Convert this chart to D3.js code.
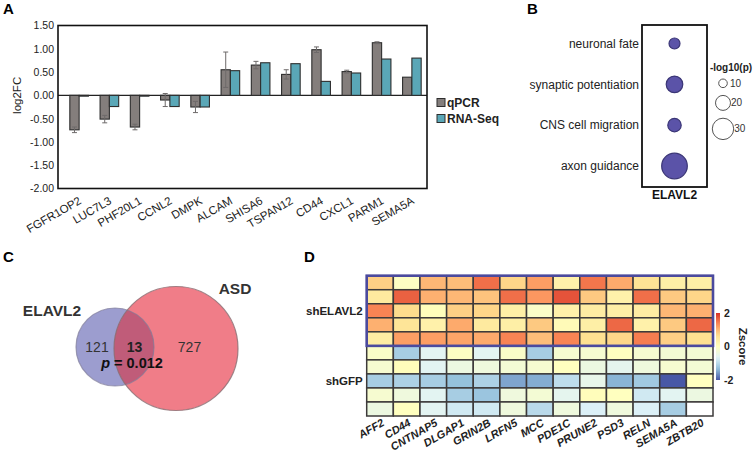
<!DOCTYPE html>
<html><head><meta charset="utf-8">
<script src="https://cdn.jsdelivr.net/npm/d3@7"></script>
<style>body{margin:0;background:#fff}svg{display:block;font-family:Arial,"Liberation Sans",Helvetica,sans-serif}</style>
</head><body><svg id="c" width="755" height="455"></svg>
<script>
// ---------- Panel A data ----------
const genesA = ["FGFR1OP2","LUC7L3","PHF20L1","CCNL2","DMPK","ALCAM","SHISA6","TSPAN12","CD44","CXCL1","PARM1","SEMA5A"];
const qpcrValues = [-0.74,-0.51,-0.68,-0.10,-0.25,0.55,0.65,0.45,0.98,0.51,1.13,0.39];
const qpcrErrors = [0.06,0.08,0.06,0.14,0.12,0.38,0.08,0.10,0.06,0.03,0.02,0.0];
const rnaSeqValues = [-0.01,-0.24,-0.01,-0.24,-0.25,0.53,0.70,0.68,0.30,0.48,0.78,0.80];
const yTicksA = [-2,-1.5,-1,-0.5,0,0.5,1,1.5];
const seriesA = ["qPCR","RNA-Seq"];

// ---------- Panel B data ----------
const goTerms = ["neuronal fate","synaptic potentiation","CNS cell migration","axon guidance"];
const goLogP = [13.7,22.5,17.5,36.6];
const sizeLegendValues = [10,20,30];
const goColumn = "ELAVL2";

// ---------- Panel C data ----------
const vennLabels = ["ELAVL2","ASD"];
const vennCounts = [121,13,727];   // only ELAVL2, overlap, only ASD
const vennP = "0.012";

// ---------- Panel D data ----------
const heatGenes = ["AFF2","CD44","CNTNAP5","DLGAP1","GRIN2B","LRFN5","MCC","PDE1C","PRUNE2","PSD3","RELN","SEMA5A","ZBTB20"];
const heatGroups = ["shELAVL2","shGFP"];
const heatRowGroup = [0,0,0,0,0,1,1,1,1,1];
const zRow1  = [0.80,-0.05,1.00,0.95,1.55,0.75,1.20,0.30,1.50,1.10,0.60,0.35,0.35];
const zRow2  = [0.45,1.65,1.05,1.00,0.90,1.55,1.25,1.75,0.85,0.30,1.55,0.85,0.75];
const zRow3  = [1.40,0.70,0.05,0.80,0.75,0.35,-0.10,0.30,0.40,0.35,0.40,1.00,1.05];
const zRow4  = [1.05,0.55,0.30,1.10,0.45,0.35,0.85,0.10,0.35,1.60,0.30,0.85,1.60];
const zRow5  = [0.40,1.20,1.20,1.15,1.10,1.40,0.95,1.40,0.65,0.75,1.45,0.80,0.65];
const zRow6  = [-0.10,-1.15,-0.60,-0.05,-0.60,-0.10,-1.15,-0.20,-0.20,0.00,-0.20,-0.25,-0.25];
const zRow7  = [-0.20,0.05,-0.60,-0.40,-0.35,-0.25,-0.20,0.00,-0.40,-0.55,-0.35,-0.20,-0.25];
const zRow8  = [-1.15,-1.10,-1.15,-1.30,-1.10,-1.50,-1.45,-0.95,-0.50,-1.40,-1.20,-2.00,0.00];
const zRow9  = [-0.20,-0.35,-0.60,-1.15,-1.25,-0.35,-0.25,-0.55,0.05,0.00,-0.80,-0.60,-0.40];
const zRow10 = [-0.40,0.00,-0.60,-0.80,-0.80,-0.35,-1.00,-0.35,-0.70,-0.35,-0.70,-1.15,null];
const zscores = [zRow1,zRow2,zRow3,zRow4,zRow5,zRow6,zRow7,zRow8,zRow9,zRow10];
const zTicks = [2,0,-2];

// ================= drawing =================
const svg = d3.select("#c");
const FONT = 'Arial, "Liberation Sans", Helvetica, sans-serif';
const defs = svg.append("defs");

function panelLabel(t, x, y){
  svg.append("text").attr("x",x).attr("y",y).attr("font-size",15).attr("font-weight","bold").text(t);
}
panelLabel("A",3,14); panelLabel("B",527,14); panelLabel("C",3,262); panelLabel("D",304,262);

// ---------- Panel A ----------
(function(){
  const left=58, right=427, top=25.5, bottom=188.5;
  const g = svg.append("g");
  const x = d3.scaleBand().domain(genesA).range([64,427]);
  const y = d3.scaleLinear().domain([-2,1.5]).range([bottom,top]);
  const bw = 9.3;
  const colors = {"qPCR":"#847e7c","RNA-Seq":"#5aa7b7"};

  g.append("line").attr("x1",left).attr("x2",right).attr("y1",y(0)).attr("y2",y(0))
    .attr("stroke","#222").attr("stroke-width",1.2);

  const cx = d => x(d)+x.bandwidth()/2;
  g.selectAll("rect.q").data(genesA).join("rect").attr("class","q")
    .attr("x",d=>cx(d)-bw).attr("width",bw)
    .attr("y",(d,i)=>Math.min(y(qpcrValues[i]),y(0)))
    .attr("height",(d,i)=>Math.max(Math.abs(y(qpcrValues[i])-y(0)),0.8))
    .attr("fill",colors.qPCR).attr("stroke","#2e2e2e").attr("stroke-width",1.1);
  g.selectAll("rect.r").data(genesA).join("rect").attr("class","r")
    .attr("x",d=>cx(d)).attr("width",bw)
    .attr("y",(d,i)=>Math.min(y(rnaSeqValues[i]),y(0)))
    .attr("height",(d,i)=>Math.max(Math.abs(y(rnaSeqValues[i])-y(0)),0.8))
    .attr("fill",colors["RNA-Seq"]).attr("stroke","#2e2e2e").attr("stroke-width",1.1);

  const eb = g.append("g").attr("stroke","#6e6a6a").attr("stroke-width",1);
  genesA.forEach((d,i)=>{
    if(!qpcrErrors[i]) return;
    const ex = cx(d)-bw/2, v=qpcrValues[i], e=qpcrErrors[i];
    eb.append("line").attr("x1",ex).attr("x2",ex).attr("y1",y(v+e)).attr("y2",y(v-e));
    eb.append("line").attr("x1",ex-2.5).attr("x2",ex+2.5).attr("y1",y(v+e)).attr("y2",y(v+e));
    eb.append("line").attr("x1",ex-2.5).attr("x2",ex+2.5).attr("y1",y(v-e)).attr("y2",y(v-e));
  });

  g.append("rect").attr("x",left).attr("y",top).attr("width",right-left).attr("height",bottom-top)
    .attr("fill","none").attr("stroke","#111").attr("stroke-width",1.6);

  const ax = g.append("g").attr("transform",`translate(${left},0)`)
    .call(d3.axisLeft(y).tickValues(yTicksA).tickSize(0).tickPadding(4).tickFormat(d=>d.toFixed(2)));
  ax.select(".domain").remove();
  ax.selectAll("text").attr("font-size",10.5).attr("font-family",FONT).attr("fill","#222");

  g.append("text").attr("transform",`translate(21,${y(0)}) rotate(-90)`).attr("text-anchor","middle")
    .attr("font-size",11.5).attr("fill","#222").text("log2FC");

  g.selectAll("text.xl").data(genesA).join("text").attr("class","xl")
    .attr("transform",d=>`translate(${cx(d)+3},${203}) rotate(-30)`)
    .attr("text-anchor","end").attr("font-size",11.5).attr("fill","#222").text(d=>d);

  const lg = g.append("g");
  seriesA.forEach((s,i)=>{
    const ly = 103 + i*16;
    lg.append("rect").attr("x",437).attr("y",ly-4.5).attr("width",8).attr("height",8)
      .attr("fill",colors[s]).attr("stroke","#2e2e2e").attr("stroke-width",1);
    lg.append("text").attr("x",447).attr("y",ly).attr("dy","0.35em").attr("font-size",12)
      .attr("font-weight","bold").attr("fill","#222").text(s);
  });
})();

// ---------- Panel B ----------
(function(){
  const g = svg.append("g");
  const boxL=642, boxR=707, boxT=25, boxB=187;
  const yB = d3.scalePoint().domain(goTerms).range([43.5,166]);
  const r = d3.scaleLinear().domain([0,40]).range([1.1,13.9]);
  const cxB = (boxL+boxR)/2;
  g.append("rect").attr("x",boxL).attr("y",boxT).attr("width",boxR-boxL).attr("height",boxB-boxT)
    .attr("fill","none").attr("stroke","#111").attr("stroke-width",1.8);
  g.selectAll("circle.go").data(goTerms).join("circle").attr("class","go")
    .attr("cx",cxB).attr("cy",d=>yB(d)).attr("r",(d,i)=>r(goLogP[i]))
    .attr("fill","#5b53a8").attr("stroke","#3b3676").attr("stroke-width",1.2);
  g.selectAll("text.go").data(goTerms).join("text").attr("class","go")
    .attr("x",boxL-3).attr("y",d=>yB(d)).attr("dy","0.35em").attr("text-anchor","end")
    .attr("font-size",12).attr("fill","#222").text(d=>d);
  g.append("text").attr("x",cxB).attr("y",199).attr("text-anchor","middle")
    .attr("font-size",12).attr("font-weight","bold").attr("fill","#111").text(goColumn);

  g.append("text").attr("x",731).attr("y",71).attr("text-anchor","middle")
    .attr("font-size",10).attr("font-weight","bold").attr("fill","#222").text("-log10(p)");
  let yy = 79;
  sizeLegendValues.forEach((v,i)=>{
    const rr = r(v);
    const cy = yy + rr;
    g.append("circle").attr("cx",723).attr("cy",cy).attr("r",rr)
      .attr("fill","#fff").attr("stroke","#555").attr("stroke-width",1);
    g.append("text").attr("x",Math.max(730,723+rr+0.5)).attr("y",cy).attr("dy","0.35em")
      .attr("font-size",10).attr("fill","#333").text(v);
    yy = cy + rr + 7.8;
  });
})();

// ---------- Panel C ----------
(function(){
  const g = svg.append("g");
  const totals = [vennCounts[0]+vennCounts[1], vennCounts[1]+vennCounts[2]];
  const rs = d3.scaleLinear().domain([134,740]).range([39,62]);
  const cE = {x:115,y:347}, cA = {x:176,y:348.5};
  const rE = rs(totals[0]), rA = rs(totals[1]);
  defs.append("clipPath").attr("id","clipE").append("circle").attr("cx",cE.x).attr("cy",cE.y).attr("r",rE);
  g.append("circle").attr("cx",cE.x).attr("cy",cE.y).attr("r",rE).attr("fill","#9c9dcf");
  g.append("circle").attr("cx",cA.x).attr("cy",cA.y).attr("r",rA).attr("fill","#f07d88");
  g.append("circle").attr("cx",cA.x).attr("cy",cA.y).attr("r",rA).attr("fill","#c05c79").attr("clip-path","url(#clipE)");
  g.append("circle").attr("cx",cE.x).attr("cy",cE.y).attr("r",rE).attr("fill","none").attr("stroke","#7d7a98").attr("stroke-width",1.2).attr("stroke-opacity",0.7);
  g.append("circle").attr("cx",cA.x).attr("cy",cA.y).attr("r",rA).attr("fill","none").attr("stroke","#8a6c70").attr("stroke-width",1.2).attr("stroke-opacity",0.8);

  g.append("text").attr("x",52).attr("y",316).attr("text-anchor","middle").attr("font-size",15.5)
    .attr("font-weight","bold").attr("fill","#333").text(vennLabels[0]);
  g.append("text").attr("x",235).attr("y",294).attr("text-anchor","middle").attr("font-size",15.5)
    .attr("font-weight","bold").attr("fill","#333").text(vennLabels[1]);

  g.append("text").attr("x",97).attr("y",352).attr("text-anchor","middle").attr("font-size",14).attr("fill","#333").text(vennCounts[0]);
  g.append("text").attr("x",134.5).attr("y",352).attr("text-anchor","middle").attr("font-size",14).attr("font-weight","bold").attr("fill","#222").text(vennCounts[1]);
  g.append("text").attr("x",189.5).attr("y",352).attr("text-anchor","middle").attr("font-size",14).attr("fill","#333").text(vennCounts[2]);
  const pt = g.append("text").attr("x",132).attr("y",368).attr("text-anchor","middle").attr("font-size",14.5).attr("font-weight","bold").attr("fill","#111");
  pt.append("tspan").attr("font-style","italic").text("p");
  pt.append("tspan").text(" = " + vennP);
})();

// ---------- Panel D ----------
(function(){
  const g = svg.append("g");
  const L=366.7, R=713, T=275.7, B=416;
  const x = d3.scaleBand().domain(heatGenes).range([L,R]);
  const y = d3.scaleBand().domain(d3.range(zscores.length)).range([T,B]);
  const color = d3.scaleLinear()
    .domain([-2,-1.333,-0.667,0,0.667,1.333,2])
    .range(["#4858a6","#91bfdb","#e0f3f8","#ffffbf","#fee090","#fc8d59","#d73027"]).clamp(true);

  zscores.forEach((row,ri)=>{
    g.selectAll(null).data(row).join("rect")
      .attr("x",(d,ci)=>x(heatGenes[ci])).attr("y",y(ri))
      .attr("width",x.bandwidth()).attr("height",y.bandwidth())
      .attr("fill",d=>d==null?"#ffffff":color(d))
      .attr("stroke","#3d3a3a").attr("stroke-width",1.5);
  });
  const gRows = heatRowGroup.map((gr,i)=>i).filter(i=>heatRowGroup[i]===0);
  g.append("rect").attr("x",L).attr("y",y(gRows[0])).attr("width",R-L)
    .attr("height",y(gRows[gRows.length-1])+y.bandwidth()-y(gRows[0]))
    .attr("fill","none").attr("stroke","#4b4a9e").attr("stroke-width",2.6);

  heatGroups.forEach((gr,gi)=>{
    const rows = heatRowGroup.map((v,i)=>i).filter(i=>heatRowGroup[i]===gi);
    const cy = (y(rows[0]) + y(rows[rows.length-1]) + y.bandwidth())/2;
    g.append("text").attr("x",L-4).attr("y",cy).attr("dy","0.35em").attr("text-anchor","end")
      .attr("font-size",11.5).attr("font-weight","bold").attr("fill","#222").text(gr);
  });

  g.selectAll("text.hx").data(heatGenes).join("text").attr("class","hx")
    .attr("transform",d=>`translate(${x(d)+x.bandwidth()/2+5},${425}) rotate(-30)`)
    .attr("text-anchor","end").attr("font-size",11).attr("font-weight","bold").attr("font-style","italic")
    .attr("fill","#222").text(d=>d);

  const cbY = d3.scaleLinear().domain([-2,2]).range([380,313]);
  const grad = defs.append("linearGradient").attr("id","zgrad").attr("x1",0).attr("y1",1).attr("x2",0).attr("y2",0);
  d3.range(0,1.0001,0.05).forEach(t=>{
    grad.append("stop").attr("offset",t).attr("stop-color",color(-2+4*t));
  });
  g.append("rect").attr("x",716).attr("y",cbY(2)).attr("width",4).attr("height",cbY(-2)-cbY(2)).attr("fill","url(#zgrad)");
  g.selectAll("text.zt").data(zTicks).join("text").attr("class","zt")
    .attr("x",724).attr("y",d=>cbY(d)).attr("dy","0.35em").attr("font-size",10.5).attr("font-weight","bold")
    .attr("fill","#222").text(d=>d);
  g.append("text").attr("transform",`translate(739,${cbY(0)}) rotate(90)`).attr("text-anchor","middle")
    .attr("font-size",11.5).attr("font-weight","bold").attr("fill","#222").text("Zscore");
})();
</script></body></html>
